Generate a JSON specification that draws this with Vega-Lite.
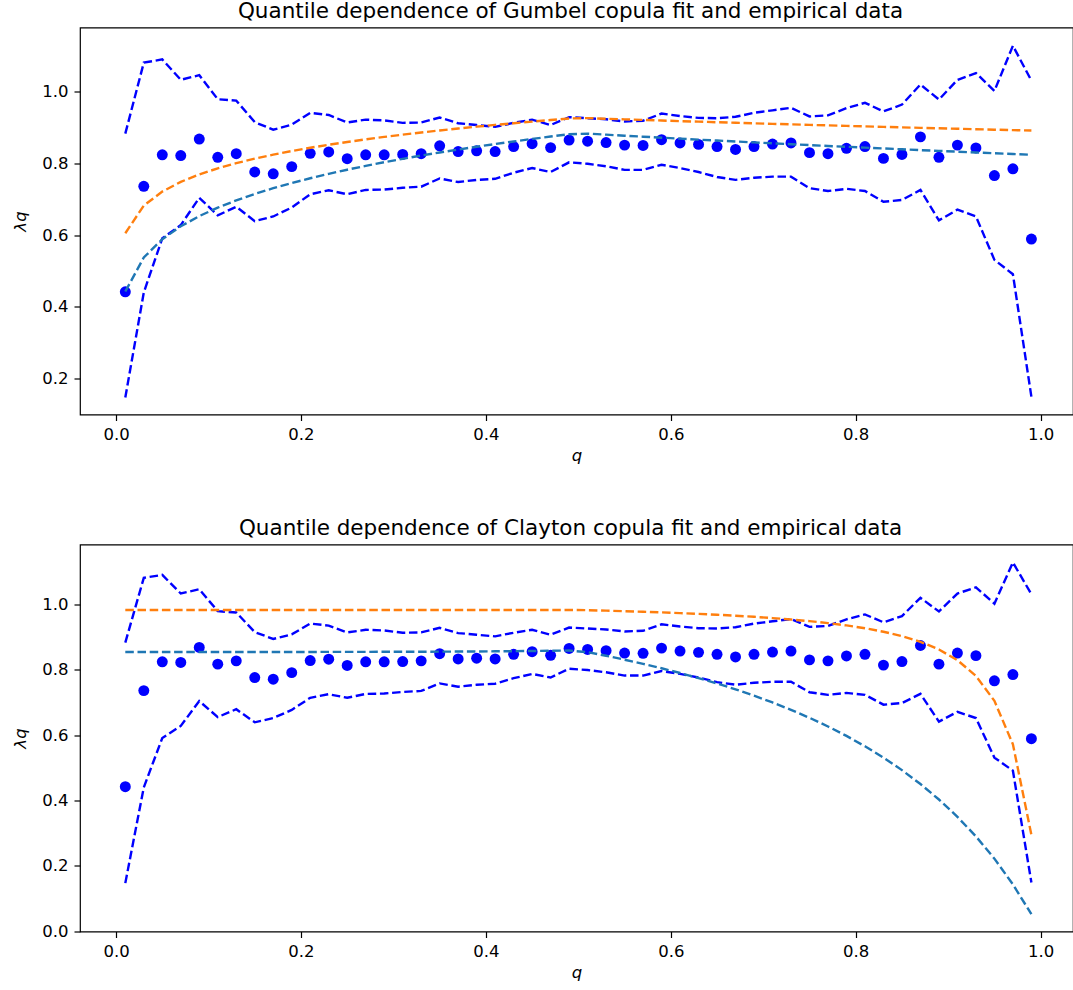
{
  "$schema": "https://vega.github.io/schema/vega-lite/v6.json",
  "padding": {"left": 12, "top": -0.5, "right": 0, "bottom": 0},
  "background": "white",
  "bounds": "flush",
  "spacing": 130,
  "config": {
    "font": "DejaVu Sans",
    "view": {"stroke": "black", "strokeWidth": 1.2},
    "axis": {"domain": false, "grid": false, "tickColor": "black", "tickSize": 6, "tickWidth": 1.2, "labelFont": "DejaVu Sans", "labelFontSize": 16.5, "labelColor": "black", "labelPadding": 6, "titleFont": "DejaVu Sans", "titleFontSize": 16.5, "titleFontWeight": "normal", "titleColor": "black"},
    "title": {"font": "DejaVu Sans", "fontSize": 21.5, "fontWeight": "normal", "color": "black", "offset": 5.5, "dx": -6}
  },
  "data": {"values": [
    {"q":0.01,"emp":0.442,"lo":0.147,"hi":0.883,"g1":0.6053,"g2":0.4426,"c1":0.9828,"c2":0.8543},
    {"q":0.03,"emp":0.736,"lo":0.440,"hi":1.081,"g1":0.6823,"g2":0.5376,"c1":0.9828,"c2":0.8543},
    {"q":0.05,"emp":0.824,"lo":0.591,"hi":1.090,"g1":0.7214,"g2":0.5885,"c1":0.9828,"c2":0.8543},
    {"q":0.07,"emp":0.822,"lo":0.628,"hi":1.033,"g1":0.7484,"g2":0.6246,"c1":0.9828,"c2":0.8543},
    {"q":0.09,"emp":0.868,"lo":0.704,"hi":1.046,"g1":0.7692,"g2":0.6530,"c1":0.9828,"c2":0.8543},
    {"q":0.11,"emp":0.817,"lo":0.655,"hi":0.979,"g1":0.7862,"g2":0.6766,"c1":0.9828,"c2":0.8543},
    {"q":0.13,"emp":0.827,"lo":0.679,"hi":0.975,"g1":0.8006,"g2":0.6969,"c1":0.9828,"c2":0.8543},
    {"q":0.15,"emp":0.776,"lo":0.639,"hi":0.915,"g1":0.8132,"g2":0.7148,"c1":0.9828,"c2":0.8543},
    {"q":0.17,"emp":0.771,"lo":0.652,"hi":0.894,"g1":0.8244,"g2":0.7308,"c1":0.9828,"c2":0.8543},
    {"q":0.19,"emp":0.791,"lo":0.677,"hi":0.908,"g1":0.8344,"g2":0.7453,"c1":0.9828,"c2":0.8543},
    {"q":0.21,"emp":0.828,"lo":0.714,"hi":0.941,"g1":0.8436,"g2":0.7586,"c1":0.9828,"c2":0.8543},
    {"q":0.23,"emp":0.832,"lo":0.725,"hi":0.935,"g1":0.8520,"g2":0.7710,"c1":0.9828,"c2":0.8544},
    {"q":0.25,"emp":0.813,"lo":0.714,"hi":0.914,"g1":0.8598,"g2":0.7824,"c1":0.9828,"c2":0.8545},
    {"q":0.27,"emp":0.824,"lo":0.726,"hi":0.922,"g1":0.8670,"g2":0.7931,"c1":0.9828,"c2":0.8546},
    {"q":0.29,"emp":0.824,"lo":0.727,"hi":0.920,"g1":0.8738,"g2":0.8032,"c1":0.9828,"c2":0.8547},
    {"q":0.31,"emp":0.825,"lo":0.732,"hi":0.913,"g1":0.8801,"g2":0.8128,"c1":0.9828,"c2":0.8548},
    {"q":0.33,"emp":0.827,"lo":0.735,"hi":0.914,"g1":0.8862,"g2":0.8218,"c1":0.9828,"c2":0.8550},
    {"q":0.35,"emp":0.849,"lo":0.758,"hi":0.928,"g1":0.8919,"g2":0.8304,"c1":0.9828,"c2":0.8552},
    {"q":0.37,"emp":0.833,"lo":0.748,"hi":0.912,"g1":0.8973,"g2":0.8386,"c1":0.9828,"c2":0.8555},
    {"q":0.39,"emp":0.835,"lo":0.754,"hi":0.907,"g1":0.9024,"g2":0.8465,"c1":0.9828,"c2":0.8558},
    {"q":0.41,"emp":0.833,"lo":0.757,"hi":0.902,"g1":0.9074,"g2":0.8540,"c1":0.9828,"c2":0.8562},
    {"q":0.43,"emp":0.847,"lo":0.774,"hi":0.913,"g1":0.9121,"g2":0.8612,"c1":0.9828,"c2":0.8566},
    {"q":0.45,"emp":0.855,"lo":0.787,"hi":0.922,"g1":0.9166,"g2":0.8682,"c1":0.9828,"c2":0.8572},
    {"q":0.47,"emp":0.844,"lo":0.776,"hi":0.907,"g1":0.9210,"g2":0.8749,"c1":0.9828,"c2":0.8578},
    {"q":0.49,"emp":0.865,"lo":0.803,"hi":0.929,"g1":0.9252,"g2":0.8814,"c1":0.9828,"c2":0.8585},
    {"q":0.51,"emp":0.862,"lo":0.799,"hi":0.926,"g1":0.9263,"g2":0.8831,"c1":0.9821,"c2":0.8536},
    {"q":0.53,"emp":0.858,"lo":0.792,"hi":0.923,"g1":0.9246,"g2":0.8801,"c1":0.9806,"c2":0.8425},
    {"q":0.55,"emp":0.851,"lo":0.782,"hi":0.917,"g1":0.9229,"g2":0.8773,"c1":0.9790,"c2":0.8306},
    {"q":0.57,"emp":0.850,"lo":0.782,"hi":0.919,"g1":0.9212,"g2":0.8745,"c1":0.9772,"c2":0.8179},
    {"q":0.59,"emp":0.866,"lo":0.796,"hi":0.939,"g1":0.9196,"g2":0.8717,"c1":0.9753,"c2":0.8044},
    {"q":0.61,"emp":0.857,"lo":0.787,"hi":0.932,"g1":0.9179,"g2":0.8690,"c1":0.9731,"c2":0.7899},
    {"q":0.63,"emp":0.853,"lo":0.776,"hi":0.927,"g1":0.9164,"g2":0.8663,"c1":0.9707,"c2":0.7744},
    {"q":0.65,"emp":0.847,"lo":0.762,"hi":0.926,"g1":0.9148,"g2":0.8637,"c1":0.9681,"c2":0.7578},
    {"q":0.67,"emp":0.839,"lo":0.754,"hi":0.930,"g1":0.9133,"g2":0.8611,"c1":0.9651,"c2":0.7398},
    {"q":0.69,"emp":0.847,"lo":0.760,"hi":0.941,"g1":0.9118,"g2":0.8585,"c1":0.9618,"c2":0.7206},
    {"q":0.71,"emp":0.854,"lo":0.763,"hi":0.948,"g1":0.9103,"g2":0.8560,"c1":0.9579,"c2":0.6997},
    {"q":0.73,"emp":0.857,"lo":0.763,"hi":0.955,"g1":0.9088,"g2":0.8535,"c1":0.9536,"c2":0.6772},
    {"q":0.75,"emp":0.830,"lo":0.731,"hi":0.931,"g1":0.9074,"g2":0.8511,"c1":0.9485,"c2":0.6528},
    {"q":0.77,"emp":0.827,"lo":0.723,"hi":0.934,"g1":0.9060,"g2":0.8486,"c1":0.9425,"c2":0.6263},
    {"q":0.79,"emp":0.842,"lo":0.729,"hi":0.954,"g1":0.9046,"g2":0.8463,"c1":0.9354,"c2":0.5974},
    {"q":0.81,"emp":0.847,"lo":0.723,"hi":0.969,"g1":0.9032,"g2":0.8439,"c1":0.9268,"c2":0.5657},
    {"q":0.83,"emp":0.814,"lo":0.693,"hi":0.945,"g1":0.9018,"g2":0.8416,"c1":0.9161,"c2":0.5309},
    {"q":0.85,"emp":0.825,"lo":0.698,"hi":0.964,"g1":0.9005,"g2":0.8394,"c1":0.9027,"c2":0.4927},
    {"q":0.87,"emp":0.874,"lo":0.726,"hi":1.020,"g1":0.8992,"g2":0.8370,"c1":0.8853,"c2":0.4502},
    {"q":0.89,"emp":0.817,"lo":0.641,"hi":0.978,"g1":0.8979,"g2":0.8348,"c1":0.8619,"c2":0.4028},
    {"q":0.91,"emp":0.851,"lo":0.671,"hi":1.033,"g1":0.8966,"g2":0.8327,"c1":0.8292,"c2":0.3498},
    {"q":0.93,"emp":0.843,"lo":0.652,"hi":1.052,"g1":0.8953,"g2":0.8305,"c1":0.7808,"c2":0.2900},
    {"q":0.95,"emp":0.766,"lo":0.531,"hi":1.002,"g1":0.8940,"g2":0.8282,"c1":0.7046,"c2":0.2220},
    {"q":0.97,"emp":0.785,"lo":0.491,"hi":1.128,"g1":0.8928,"g2":0.8262,"c1":0.5719,"c2":0.1430},
    {"q":0.99,"emp":0.589,"lo":0.149,"hi":1.031,"g1":0.8916,"g2":0.8241,"c1":0.2948,"c2":0.0520}
  ]},
  "vconcat": [
    {
      "width": 993,
      "height": 387,
      "title": {"text": "Quantile dependence of Gumbel copula fit and empirical data"},
      "encoding": {
        "x": {"field": "q", "type": "quantitative", "scale": {"domain": [-0.039, 1.035], "nice": false, "zero": false}, "axis": {"values": [0, 0.2, 0.4, 0.6, 0.8, 1.0], "format": ".1f", "title": "q", "titleFontStyle": "italic", "titlePadding": 4}}
      },
      "layer": [
        {"mark": {"type": "circle", "color": "#0000ff", "size": 120, "opacity": 1}, "encoding": {"y": {"field": "emp", "type": "quantitative", "scale": {"domain": [0.0997, 1.179], "nice": false, "zero": false}, "axis": {"values": [0.2, 0.4, 0.6, 0.8, 1.0], "format": ".1f", "title": "λq", "titleFontStyle": "italic", "titlePadding": 13}}}},
        {"mark": {"type": "line", "color": "#0000ff", "strokeDash": [8.5, 3.7], "strokeWidth": 2.4}, "encoding": {"y": {"field": "lo", "type": "quantitative", "scale": {"domain": [0.0997, 1.179], "nice": false, "zero": false}}}},
        {"mark": {"type": "line", "color": "#0000ff", "strokeDash": [8.5, 3.7], "strokeWidth": 2.4}, "encoding": {"y": {"field": "hi", "type": "quantitative", "scale": {"domain": [0.0997, 1.179], "nice": false, "zero": false}}}},
        {"mark": {"type": "line", "color": "#1f77b4", "strokeDash": [8.5, 3.7], "strokeWidth": 2.4}, "encoding": {"y": {"field": "g2", "type": "quantitative", "scale": {"domain": [0.0997, 1.179], "nice": false, "zero": false}}}},
        {"mark": {"type": "line", "color": "#ff7f0e", "strokeDash": [8.5, 3.7], "strokeWidth": 2.4}, "encoding": {"y": {"field": "g1", "type": "quantitative", "scale": {"domain": [0.0997, 1.179], "nice": false, "zero": false}}}}
      ]
    },
    {
      "width": 993,
      "height": 387,
      "title": {"text": "Quantile dependence of Clayton copula fit and empirical data"},
      "encoding": {
        "x": {"field": "q", "type": "quantitative", "scale": {"domain": [-0.039, 1.035], "nice": false, "zero": false}, "axis": {"values": [0, 0.2, 0.4, 0.6, 0.8, 1.0], "format": ".1f", "title": "q", "titleFontStyle": "italic", "titlePadding": 4}}
      },
      "layer": [
        {"mark": {"type": "circle", "color": "#0000ff", "size": 120, "opacity": 1}, "encoding": {"y": {"field": "emp", "type": "quantitative", "scale": {"domain": [-0.001, 1.183], "nice": false, "zero": false}, "axis": {"values": [0, 0.2, 0.4, 0.6, 0.8, 1.0], "format": ".1f", "title": "λq", "titleFontStyle": "italic", "titlePadding": 13}}}},
        {"mark": {"type": "line", "color": "#0000ff", "strokeDash": [8.5, 3.7], "strokeWidth": 2.4}, "encoding": {"y": {"field": "lo", "type": "quantitative", "scale": {"domain": [-0.001, 1.183], "nice": false, "zero": false}}}},
        {"mark": {"type": "line", "color": "#0000ff", "strokeDash": [8.5, 3.7], "strokeWidth": 2.4}, "encoding": {"y": {"field": "hi", "type": "quantitative", "scale": {"domain": [-0.001, 1.183], "nice": false, "zero": false}}}},
        {"mark": {"type": "line", "color": "#1f77b4", "strokeDash": [8.5, 3.7], "strokeWidth": 2.4}, "encoding": {"y": {"field": "c2", "type": "quantitative", "scale": {"domain": [-0.001, 1.183], "nice": false, "zero": false}}}},
        {"mark": {"type": "line", "color": "#ff7f0e", "strokeDash": [8.5, 3.7], "strokeWidth": 2.4}, "encoding": {"y": {"field": "c1", "type": "quantitative", "scale": {"domain": [-0.001, 1.183], "nice": false, "zero": false}}}}
      ]
    }
  ]
}
